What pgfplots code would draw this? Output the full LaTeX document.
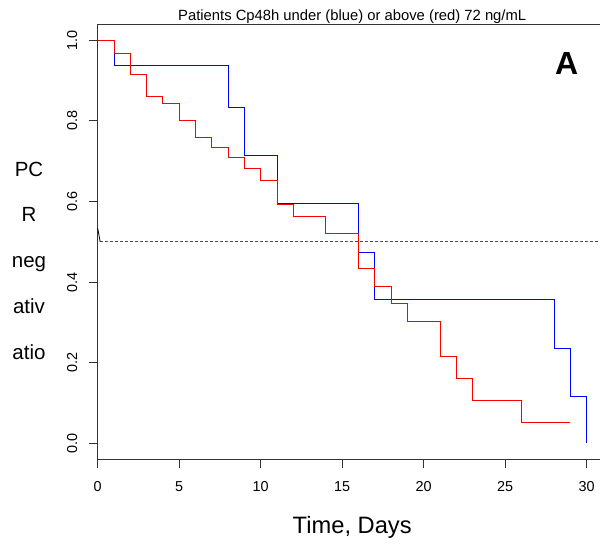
\documentclass[border=0pt]{standalone}
\usepackage{fontspec}
\setmainfont{Liberation Sans}
\usepackage{pgfplots}
\pgfplotsset{compat=1.18}

\begin{document}
\begin{tikzpicture}
\begin{axis}[
    at={(0,0)}, anchor=south west,
    scale only axis,
    width=508.6bp, height=435.6bp,
    xmin=0, xmax=31.2,
    ymin=-0.04, ymax=1.04,
    xtick={0,5,10,15,20,25,30},
    ytick={0,0.2,0.4,0.6,0.8,1},
    xtick pos=bottom, ytick pos=left,
    tick align=outside,
    major tick length=8.5bp,
    axis line style={black!80, line width=0.9bp},
    every tick/.style={black!80, line width=0.9bp},
    /pgf/number format/assume math mode=true,
    tick label style={font=\fontsize{14.4bp}{17bp}\selectfont, inner sep=0pt},
    xticklabel style={anchor=north},
    xticklabel shift=13bp,
    yticklabel style={rotate=90, anchor=base,
        /pgf/number format/.cd, fixed, fixed zerofill, precision=1},
    yticklabel shift=12bp,
    clip=false,
]
% blue group: Cp48h under 72 ng/mL
\addplot[const plot, blue, line width=1bp] coordinates {
    (0,1) (1,0.938) (8,0.833) (9,0.714) (11,0.595) (16,0.473)
    (17,0.356) (28,0.236) (29,0.117) (30,0)
};
% red group: Cp48h above 72 ng/mL
\addplot[const plot, red, line width=1bp] coordinates {
    (0,1) (1,0.967) (2,0.915) (3,0.861) (4,0.843) (5,0.801)
    (6,0.758) (7,0.735) (8,0.710) (9,0.682) (10,0.652) (11,0.593)
    (12,0.563) (14,0.521) (16,0.434) (17,0.389) (18,0.346)
    (19,0.303) (21,0.216) (22,0.160) (23,0.106) (26,0.053) (29,0.053)
};
% median line
\addplot[black!70, line width=0.9bp, dash pattern=on 3bp off 2bp] coordinates {(0.15,0.5) (31.2,0.5)};
\addplot[black, line width=0.8bp] coordinates {(0,0.534) (0.15,0.5)};
\end{axis}
\node[anchor=base, font=\fontsize{14.8bp}{17bp}\selectfont] at (254.5bp,439.5bp)
    {Patients Cp48h under (blue) or above (red) 72 ng/mL};
\node[font=\fontsize{32bp}{36bp}\selectfont\bfseries] at (469bp,396.3bp) {A};
\node[anchor=base, font=\fontsize{23.7bp}{28bp}\selectfont] at (254.5bp,-73.4bp) {Time, Days};
\begin{scope}[every node/.style={anchor=base, font=\fontsize{20.5bp}{24bp}\selectfont}]
\node at (-68.7bp,282.6bp) {PC};
\node at (-68.7bp,237.6bp) {R};
\node at (-68.7bp,191.6bp) {neg};
\node at (-68.7bp,145.6bp) {ativ};
\node at (-68.7bp,99.6bp) {atio};
\end{scope}
\pgfresetboundingbox
\path[use as bounding box] (-97.7bp,-87.4bp) rectangle (502.3bp,459.6bp);
\end{tikzpicture}
\end{document}
